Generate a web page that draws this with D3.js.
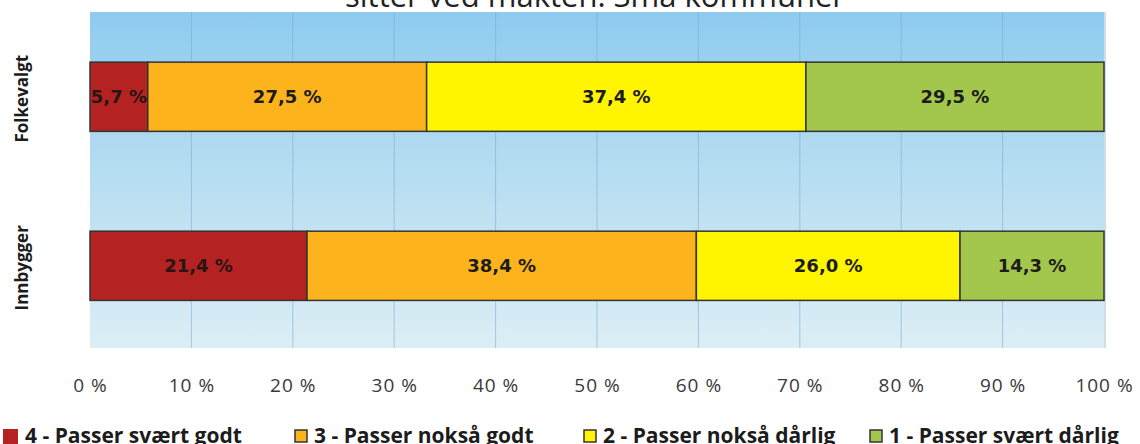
<!DOCTYPE html>
<html><head><meta charset="utf-8">
<script src="https://cdn.jsdelivr.net/npm/d3@7"></script>
<style>body{margin:0;background:#fff;} svg{display:block;}</style>
</head><body>
<script>
const categories = ["Folkevalgt", "Innbygger"];
const seriesNames = ["4 - Passer svært godt", "3 - Passer nokså godt", "2 - Passer nokså dårlig", "1 - Passer svært dårlig"];
const s4 = [5.7, 21.4];
const s3 = [27.5, 38.4];
const s2 = [37.4, 26.0];
const s1 = [29.5, 14.3];
const tickValues = [0,10,20,30,40,50,60,70,80,90,100];
const tickLabels = ["0 %","10 %","20 %","30 %","40 %","50 %","60 %","70 %","80 %","90 %","100 %"];
const titleText = "sitter ved makten. Små kommuner";

(function(){
const colors = ["#b42222", "#fdb31c", "#fff500", "#a3c64c"];
const W = 1140, H = 444;
const pLeft = 90, pRight = 1104, pTop = 12, pBottom = 348;
const fontF = "'Open Sans', 'DejaVu Sans', sans-serif";
const fontV = "'DejaVu Sans', Verdana, sans-serif";

const svg = d3.select("body").append("svg").attr("width", W).attr("height", H);
const defs = svg.append("defs");
const grad = defs.append("linearGradient").attr("id","bg").attr("x1",0).attr("y1",0).attr("x2",0).attr("y2",1);
grad.append("stop").attr("offset","0%").attr("stop-color","#8ecbef");
grad.append("stop").attr("offset","45%").attr("stop-color","#b4dcf1");
grad.append("stop").attr("offset","100%").attr("stop-color","#dceef5");

const x = d3.scaleLinear().domain([0,100]).range([pLeft,pRight]);
const y = d3.scaleBand().domain(categories).range([pTop,pBottom]).paddingInner(0.5905).paddingOuter(0.289).align(0.513);

svg.append("text").attr("x", 595).attr("y", 7).attr("text-anchor","middle")
  .style("font-family", fontF).style("font-size","31px").attr("fill","#222").text(titleText);

svg.append("rect").attr("x", pLeft).attr("y", pTop).attr("width", pRight-pLeft).attr("height", pBottom-pTop).attr("fill","url(#bg)");
svg.append("line").attr("x1", pRight+1).attr("x2", pRight+1).attr("y1", pTop).attr("y2", pBottom).attr("stroke","#d0dde4").attr("stroke-width",2);

svg.append("g").selectAll("line").data(tickValues.slice(1,-1)).join("line")
  .attr("x1", d=>x(d)).attr("x2", d=>x(d)).attr("y1", pTop).attr("y2", pBottom)
  .attr("stroke","#7aa9c8").attr("stroke-width",1).attr("opacity",0.55);

const rows = categories.map((c,i)=>({cat:c, v:[s4[i], s3[i], s2[i], s1[i]]}));
const stack = d3.stack().keys([0,1,2,3]).value((d,k)=>d.v[k]);
const stacked = stack(rows);

const gBars = svg.append("g");
stacked.forEach((layer, k)=>{
  gBars.selectAll(null).data(layer).join("rect")
    .attr("x", d=>x(d[0])).attr("width", d=>Math.min(x(d[1]),pRight)-x(d[0]))
    .attr("y", d=>y(d.data.cat)).attr("height", y.bandwidth())
    .attr("fill", colors[k]).attr("stroke","#333").attr("stroke-width",1.5);
});
stacked.forEach((layer, k)=>{
  gBars.selectAll(null).data(layer).join("text")
    .attr("x", d=>(x(d[0])+Math.min(x(d[1]),pRight))/2)
    .attr("y", d=>y(d.data.cat)+y.bandwidth()/2+1)
    .attr("text-anchor","middle").attr("dominant-baseline","middle")
    .style("font-family", fontV).style("font-size","18px").style("font-weight","bold")
    .attr("fill", k===0 ? "#2a1515" : "#1c1c1c")
    .text(d=>d.data.v[k].toFixed(1).replace(".", ",") + " %");
});

svg.append("g").selectAll("text").data(categories).join("text")
  .attr("transform", d=>`translate(28,${y(d)+y.bandwidth()/2+2}) rotate(-90)`)
  .attr("text-anchor","middle")
  .style("font-family", fontF).style("font-size","17px").style("font-weight","bold")
  .attr("fill","#1c1c1c").text(d=>d);

const xAxis = d3.axisBottom(x).tickValues(tickValues).tickFormat((d,i)=>tickLabels[i]).tickSize(0).tickPadding(0);
const ax = svg.append("g").attr("transform",`translate(0,392)`).call(xAxis);
ax.select(".domain").remove();
ax.selectAll("text").style("font-family", fontF).style("font-size","19px").style("letter-spacing","1px")
  .attr("fill","#3a3a3a").attr("dy","0");

const legSq = [3, 294, 583, 869];
const lg = svg.append("g").selectAll("g").data(seriesNames).join("g")
  .attr("transform",(d,i)=>`translate(${legSq[i]},429)`);
lg.append("rect").attr("x",(d,i)=>i===0?0:1).attr("y",(d,i)=>i===0?0:1)
  .attr("width",(d,i)=>i===0?15:12).attr("height",(d,i)=>i===0?15:12)
  .attr("fill",(d,i)=>colors[i]).attr("stroke",(d,i)=>i===0?"none":"#333").attr("stroke-width",1.5);
lg.append("text").attr("x",(d,i)=>i===0?22:20).attr("y",14)
  .style("font-family", fontF).style("font-size","21px").style("font-weight","bold")
  .attr("fill","#1c1c1c").text(d=>d);
})();
</script>
</body></html>
